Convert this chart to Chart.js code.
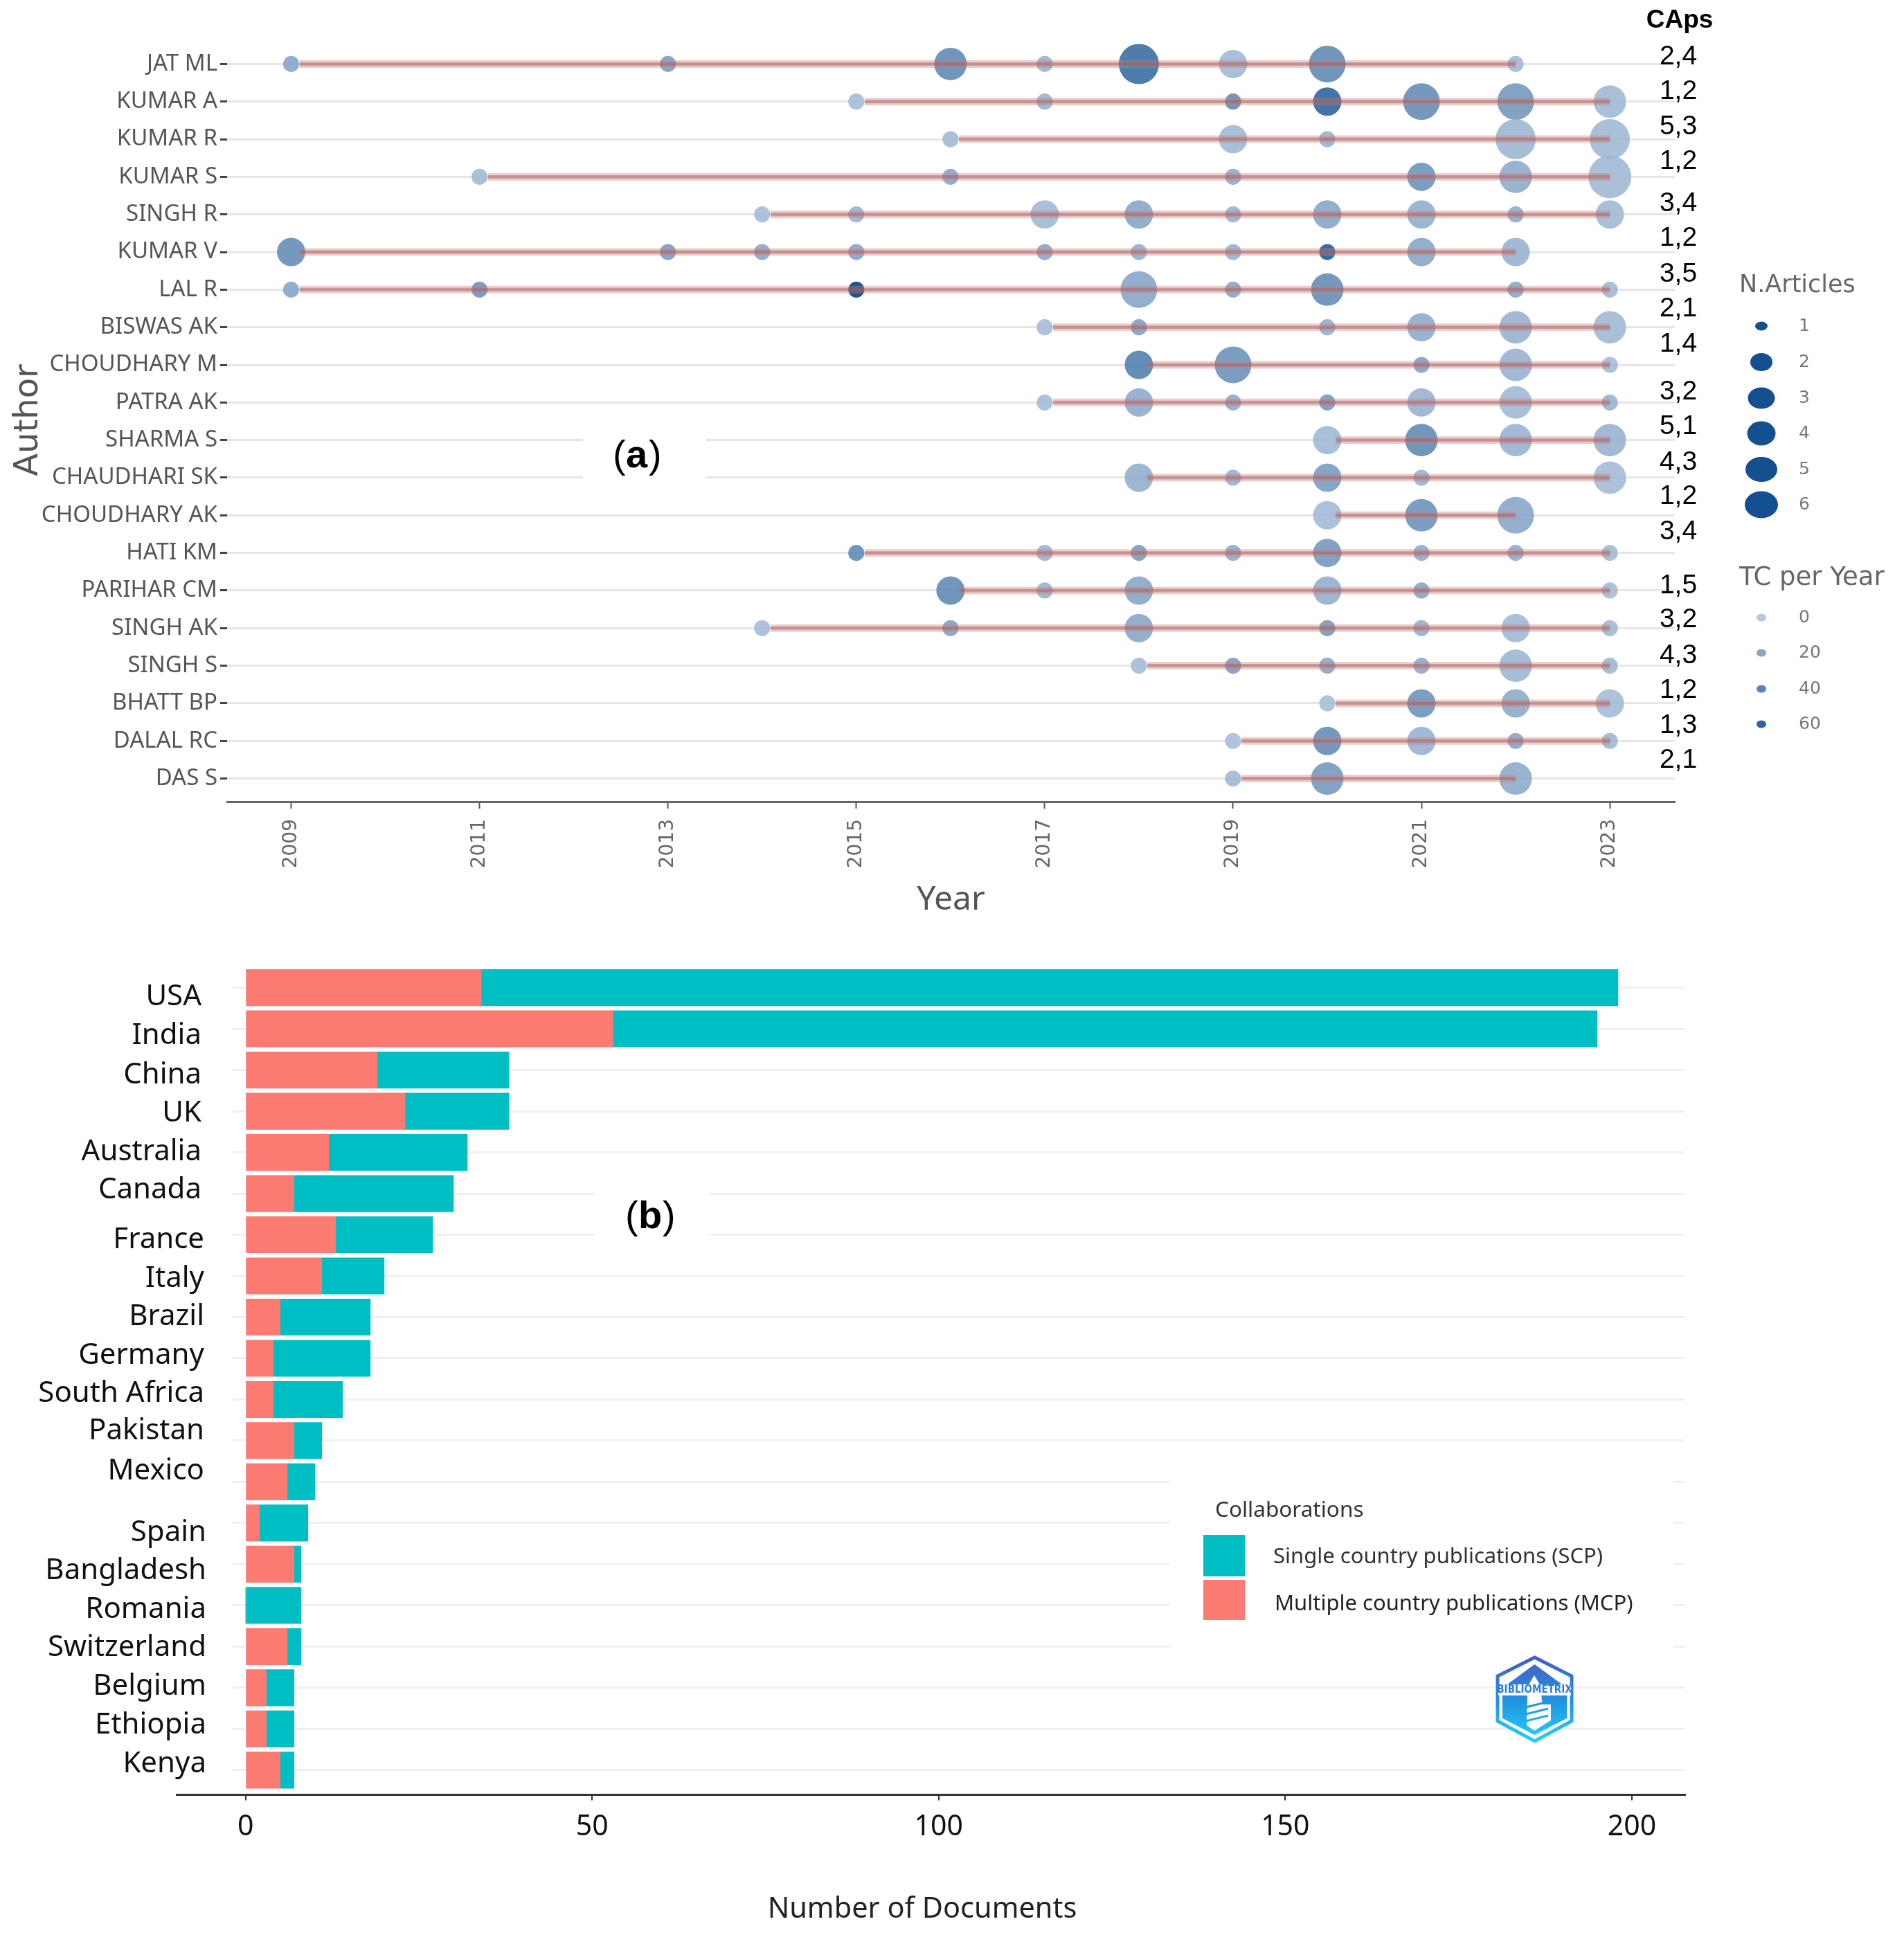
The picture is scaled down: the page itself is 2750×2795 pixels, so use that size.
<!DOCTYPE html>
<html>
<head>
<meta charset="utf-8">
<title>Authors and countries</title>
<script src="https://cdn.jsdelivr.net/npm/chart.js@4"></script>
<style>
  body { margin: 0; background: #fff; width: 2750px; height: 2795px; position: relative; overflow: hidden; }
  canvas { position: absolute; left: 0; }
  #authorChart { top: 0; }
  #countryChart { top: 1360px; }
</style>
</head>
<body>
<canvas id="authorChart" width="2750" height="1360"></canvas>
<canvas id="countryChart" width="2750" height="1435"></canvas>
<script>
// (a) authors' production over time
const authors = ["JAT ML", "KUMAR A", "KUMAR R", "KUMAR S", "SINGH R", "KUMAR V", "LAL R", "BISWAS AK", "CHOUDHARY M", "PATRA AK",
    "SHARMA S", "CHAUDHARI SK", "CHOUDHARY AK", "HATI KM", "PARIHAR CM", "SINGH AK", "SINGH S", "BHATT BP", "DALAL RC", "DAS S"];
const yearTicks = [2009, 2011, 2013, 2015, 2017, 2019, 2021, 2023];
const authorYears = [
    [2009, 2013, 2016, 2017, 2018, 2019, 2020, 2022],
    [2015, 2017, 2019, 2020, 2021, 2022, 2023],
    [2016, 2019, 2020, 2022, 2023],
    [2011, 2016, 2019, 2021, 2022, 2023],
    [2014, 2015, 2017, 2018, 2019, 2020, 2021, 2022, 2023],
    [2009, 2013, 2014, 2015, 2017, 2018, 2019, 2020, 2021, 2022],
    [2009, 2011, 2015, 2018, 2019, 2020, 2022, 2023],
    [2017, 2018, 2020, 2021, 2022, 2023],
    [2018, 2019, 2021, 2022, 2023],
    [2017, 2018, 2019, 2020, 2021, 2022, 2023],
    [2020, 2021, 2022, 2023],
    [2018, 2019, 2020, 2021, 2023],
    [2020, 2021, 2022],
    [2015, 2017, 2018, 2019, 2020, 2021, 2022, 2023],
    [2016, 2017, 2018, 2020, 2021, 2023],
    [2014, 2016, 2018, 2020, 2021, 2022, 2023],
    [2018, 2019, 2020, 2021, 2022, 2023],
    [2020, 2021, 2022, 2023],
    [2019, 2020, 2021, 2022, 2023],
    [2019, 2020, 2022],
];
const authorArticles = [
    [1, 1, 3, 1, 5, 2, 4, 1],
    [1, 1, 1, 2, 4, 4, 3],
    [1, 2, 1, 5, 5],
    [1, 1, 1, 2, 3, 6],
    [1, 1, 2, 2, 1, 2, 2, 1, 2],
    [2, 1, 1, 1, 1, 1, 1, 1, 2, 2],
    [1, 1, 1, 4, 1, 3, 1, 1],
    [1, 1, 1, 2, 3, 3],
    [2, 4, 1, 3, 1],
    [1, 2, 1, 1, 2, 3, 1],
    [2, 3, 3, 3],
    [2, 1, 2, 1, 3],
    [2, 3, 4],
    [1, 1, 1, 1, 2, 1, 1, 1],
    [2, 1, 2, 2, 1, 1],
    [1, 1, 2, 1, 1, 2, 1],
    [1, 1, 1, 1, 3, 1],
    [1, 2, 2, 2],
    [1, 2, 2, 1, 1],
    [1, 3, 3],
];
const authorTC = [
    [15, 20, 30, 8, 45, 5, 30, 5],
    [3, 8, 30, 50, 28, 22, 5],
    [5, 5, 8, 6, 5],
    [5, 15, 12, 25, 12, 5],
    [3, 8, 5, 15, 8, 15, 10, 12, 5],
    [28, 20, 15, 15, 15, 10, 8, 55, 15, 8],
    [15, 25, 70, 15, 15, 28, 15, 5],
    [3, 18, 10, 12, 8, 5],
    [35, 25, 18, 8, 3],
    [3, 12, 12, 22, 8, 5, 8],
    [5, 30, 8, 8],
    [10, 8, 20, 8, 4],
    [4, 25, 14],
    [30, 8, 20, 12, 22, 12, 12, 5],
    [30, 8, 15, 10, 15, 3],
    [3, 18, 14, 22, 10, 5, 5],
    [3, 20, 15, 12, 6, 6],
    [2, 25, 12, 3],
    [2, 28, 8, 15, 6],
    [5, 22, 12],
];
const capsTitle = "CAps";
const capsLabels = ["2,4", "1,2", "5,3", "1,2", "3,4", "1,2", "3,5", "2,1", "1,4", "3,2", "5,1", "4,3", "1,2", "3,4", "1,5", "3,2", "4,3", "1,2", "1,3", "2,1"];
const articleLegend = [1, 2, 3, 4, 5, 6];
const tcLegend = [0, 20, 40, 60];

// (b) most productive countries
const countries = ["USA", "India", "China", "UK", "Australia", "Canada", "France", "Italy", "Brazil", "Germany",
    "South Africa", "Pakistan", "Mexico", "Spain", "Bangladesh", "Romania", "Switzerland", "Belgium", "Ethiopia", "Kenya"];
const mcpDocs = [34, 53, 19, 23, 12, 7, 13, 11, 5, 4, 4, 7, 6, 2, 7, 0, 6, 3, 3, 5];
const scpDocs = [164, 142, 19, 15, 20, 23, 14, 9, 13, 14, 10, 4, 4, 7, 1, 8, 2, 4, 4, 2];
const docTicks = [0, 50, 100, 150, 200];

// sizes and places, all in page pixels
const bubbleRadius = [0, 11.6, 20.5, 23.5, 26.5, 29, 31];
const capsY = [82, 132, 183, 233, 294, 344, 396, 446, 497, 566, 616, 668, 717, 768, 846, 895, 947, 997, 1048, 1098];
const articleLegendY = [471, 523, 575, 626, 678, 729];
const articleLegendW = [18, 32, 39, 41, 46, 48];
const articleLegendH = [13, 26, 31, 35, 36, 39];
const tcLegendY = [892, 943, 995, 1046];
const countryLabelY = [1440, 1496, 1553, 1608, 1664, 1719, 1791, 1847, 1902, 1958, 2013, 2067, 2125, 2214, 2269, 2325, 2380, 2436, 2492, 2548];
const countryLabelRight = [291, 291, 291, 291, 291, 291, 295, 295, 295, 295, 295, 295, 295, 298, 298, 298, 298, 298, 298, 298];

const TEAL = "#00BFC4";
const SALMON = "#FB7A72";

function tcColor(tc) {
    const t = tc / 60;
    const mix = (a, b) => Math.max(0, Math.round(a + (b - a) * t));
    return `rgba(${mix(170, 16)}, ${mix(192, 78)}, ${mix(218, 139)}, 0.88)`;
}

const bubbles = [];
const segments = [];
authors.forEach((author, i) => {
    authorYears[i].forEach((year, j) => {
        bubbles.push({ x: year, y: i, r: bubbleRadius[authorArticles[i][j]], tc: authorTC[i][j] });
    });
    const years = authorYears[i];
    segments.push({ x: years[0] + 0.09, y: i }, { x: years[years.length - 1], y: i }, { x: null, y: null });
});

function text(ctx, str, x, y, font, color, align) {
    ctx.font = font;
    ctx.fillStyle = color;
    ctx.textAlign = align || "left";
    ctx.textBaseline = "middle";
    ctx.fillText(str, x, y);
}

const authorExtras = {
    id: "authorExtras",
    beforeDatasetsDraw(chart) {
        const ctx = chart.ctx;
        ctx.save();
        ctx.fillStyle = "#fff";
        ctx.fillRect(842, 622, 177, 85);
        ctx.restore();
    },
    afterDraw(chart) {
        const ctx = chart.ctx;
        ctx.save();
        // panel letter
        text(ctx, "(", 885, 660, "56px 'Liberation Sans'", "#000");
        text(ctx, "a", 904, 660, "bold 56px 'Liberation Sans'", "#000");
        text(ctx, ")", 937, 660, "56px 'Liberation Sans'", "#000");
        // CAps column
        text(ctx, capsTitle, 2426, 30, "bold 37px 'Liberation Sans'", "#000", "center");
        capsLabels.forEach((label, i) => text(ctx, label, 2424, capsY[i], "39px 'Liberation Sans'", "#000", "center"));
        // size legend
        text(ctx, "N.Articles", 2512, 413, "35px 'DejaVu Sans'", "#666");
        articleLegend.forEach((n, i) => {
            ctx.fillStyle = "#14508F";
            ctx.beginPath();
            ctx.ellipse(2544, articleLegendY[i], articleLegendW[i] / 2, articleLegendH[i] / 2, 0, 0, Math.PI * 2);
            ctx.fill();
            text(ctx, String(n), 2598, articleLegendY[i], "25px 'DejaVu Sans'", "#777");
        });
        // colour legend
        text(ctx, "TC per Year", 2512, 835, "37px 'DejaVu Sans'", "#666");
        tcLegend.forEach((tc, i) => {
            ctx.fillStyle = tcColor(tc);
            ctx.beginPath();
            ctx.ellipse(2544, tcLegendY[i], 7, 5.5, 0, 0, Math.PI * 2);
            ctx.fill();
            text(ctx, String(tc), 2598, tcLegendY[i], "25px 'DejaVu Sans'", "#777");
        });
        ctx.restore();
    },
};

new Chart(document.getElementById("authorChart"), {
    type: "bubble",
    plugins: [authorExtras],
    data: {
        datasets: [
            {
                type: "line",
                data: segments,
                borderColor: "rgba(165, 85, 95, 0.42)",
                borderWidth: 5,
                pointRadius: 0,
                spanGaps: false,
                borderCapStyle: "butt",
                order: 0,
            },
            {
                type: "line",
                data: segments,
                borderColor: "rgba(205, 125, 115, 0.38)",
                borderWidth: 11,
                pointRadius: 0,
                spanGaps: false,
                borderCapStyle: "butt",
                order: 1,
            },
            {
                data: bubbles,
                backgroundColor: (c) => tcColor(c.raw ? c.raw.tc : 0),
                borderWidth: 0,
                order: 2,
            },
        ],
    },
    options: {
        responsive: false,
        devicePixelRatio: 1,
        animation: false,
        layout: { padding: { top: 56, right: 331 } },
        plugins: { legend: { display: false }, tooltip: { enabled: false } },
        scales: {
            x: {
                type: "linear",
                min: 2008.32,
                max: 2023.69,
                afterBuildTicks: (s) => { s.ticks = yearTicks.map((v) => ({ value: v })); },
                afterFit: (s) => { s.height = 202; },
                ticks: {
                    autoSkip: false,
                    minRotation: 90,
                    maxRotation: 90,
                    padding: 15,
                    color: "#666",
                    font: { family: "DejaVu Sans", size: 28 },
                    callback: (v) => String(v),
                },
                grid: { color: "transparent", tickColor: "#555", tickLength: 10, tickWidth: 2 },
                border: { color: "#666", width: 3 },
                title: {
                    display: true,
                    text: "Year",
                    color: "#555",
                    font: { family: "Noto Sans", size: 48 },
                    padding: { top: 0, bottom: 31 },
                },
            },
            y: {
                type: "linear",
                reverse: true,
                min: -0.67,
                max: 19.615,
                afterBuildTicks: (s) => { s.ticks = authors.map((a, i) => ({ value: i })); },
                afterFit: (s) => { s.width = 328; },
                ticks: {
                    autoSkip: false,
                    padding: 4,
                    color: "#555",
                    font: { family: "Noto Sans", size: 33 },
                    callback: (v) => authors[v],
                },
                grid: { color: "#e6e6e6", lineWidth: 3, tickColor: "#444", tickLength: 10, tickWidth: 3 },
                border: { display: false },
                title: {
                    display: true,
                    text: "Author",
                    color: "#555",
                    font: { family: "DejaVu Sans", size: 48 },
                    padding: { top: 13, bottom: 0 },
                },
            },
        },
    },
});

function drawLogo(ctx) {
    const grad = ctx.createLinearGradient(0, 2391, 0, 2517);
    grad.addColorStop(0, "#4A5BC0");
    grad.addColorStop(0.5, "#2190E0");
    grad.addColorStop(1, "#22D3F7");
    ctx.strokeStyle = grad;
    ctx.fillStyle = grad;
    ctx.lineWidth = 5;
    ctx.beginPath();
    ctx.moveTo(2216.5, 2394);
    ctx.lineTo(2270, 2421);
    ctx.lineTo(2270, 2486);
    ctx.lineTo(2216.5, 2515);
    ctx.lineTo(2163, 2486);
    ctx.lineTo(2163, 2421);
    ctx.closePath();
    ctx.stroke();
    ctx.beginPath();
    ctx.moveTo(2216.5, 2404);
    ctx.lineTo(2256, 2433);
    ctx.lineTo(2177, 2433);
    ctx.closePath();
    ctx.fill();
    ctx.beginPath();
    ctx.moveTo(2170, 2449);
    ctx.lineTo(2263, 2449);
    ctx.lineTo(2263, 2482);
    ctx.lineTo(2216.5, 2506);
    ctx.lineTo(2170, 2482);
    ctx.closePath();
    ctx.fill();
    ctx.fillStyle = "#fff";
    ctx.beginPath();
    ctx.moveTo(2216, 2420);
    ctx.lineTo(2224, 2433);
    ctx.lineTo(2228, 2462);
    ctx.lineTo(2240, 2462);
    ctx.lineTo(2240, 2485);
    ctx.lineTo(2216, 2500);
    ctx.lineTo(2205, 2492);
    ctx.lineTo(2206, 2450);
    ctx.lineTo(2208, 2433);
    ctx.closePath();
    ctx.fill();
    ctx.strokeStyle = grad;
    ctx.lineWidth = 3;
    [2462, 2472, 2482].forEach((y) => {
        ctx.beginPath();
        ctx.moveTo(2204, y + 4);
        ctx.lineTo(2236, y - 4);
        ctx.stroke();
    });
    ctx.fillStyle = "#fff";
    ctx.fillRect(2164, 2433, 105, 16);
    text(ctx, "BIBLIOMETRIX", 2216.5, 2441, "bold 15px 'DejaVu Sans Condensed', 'DejaVu Sans'", "#2A7FD6", "center");
}

const countryExtras = {
    id: "countryExtras",
    beforeDatasetsDraw(chart) {
        const ctx = chart.ctx;
        ctx.save();
        ctx.translate(0, -1360);
        ctx.fillStyle = "#fff";
        // the grid starts at the bars, and is masked behind the inserts
        ctx.fillRect(255, 1380, 80, 1210);
        ctx.fillRect(859, 1700, 165, 110);
        ctx.fillRect(1689, 2130, 728, 260);
        ctx.restore();
    },
    afterDraw(chart) {
        const ctx = chart.ctx;
        ctx.save();
        ctx.translate(0, -1360);
        countries.forEach((c, i) => text(ctx, c, countryLabelRight[i], countryLabelY[i], "42px 'Noto Sans'", "#111", "right"));
        text(ctx, "(", 903, 1759, "56px 'Liberation Sans'", "#000");
        text(ctx, "b", 922, 1759, "bold 56px 'Liberation Sans'", "#000");
        text(ctx, ")", 957, 1759, "56px 'Liberation Sans'", "#000");
        text(ctx, "Number of Documents", 1332, 2758, "41.5px 'Noto Sans'", "#222", "center");
        // legend
        text(ctx, "Collaborations", 1755, 2182, "31.5px 'Noto Sans'", "#333");
        ctx.fillStyle = TEAL;
        ctx.fillRect(1738, 2217, 60, 60);
        ctx.fillStyle = SALMON;
        ctx.fillRect(1738, 2282, 60, 58);
        text(ctx, "Single country publications (SCP)", 1839, 2249, "31px 'Noto Sans'", "#333");
        text(ctx, "Multiple country publications (MCP)", 1841, 2317, "31px 'Noto Sans'", "#222");
        drawLogo(ctx);
        ctx.restore();
    },
};

new Chart(document.getElementById("countryChart"), {
    type: "bar",
    plugins: [countryExtras],
    data: {
        datasets: [
            {
                label: "Multiple country publications (MCP)",
                data: mcpDocs.map((v, i) => ({ x: v, y: i })),
                backgroundColor: SALMON,
                barThickness: 52.5,
                stack: "docs",
            },
            {
                label: "Single country publications (SCP)",
                data: scpDocs.map((v, i) => ({ x: v, y: i })),
                backgroundColor: TEAL,
                barThickness: 52.5,
                stack: "docs",
            },
        ],
    },
    options: {
        indexAxis: "y",
        responsive: false,
        devicePixelRatio: 1,
        animation: false,
        layout: { padding: { top: 20, right: 316 } },
        plugins: { legend: { display: false }, tooltip: { enabled: false } },
        scales: {
            x: {
                type: "linear",
                stacked: true,
                min: -9.95,
                max: 207.7,
                afterBuildTicks: (s) => { s.ticks = docTicks.map((v) => ({ value: v })); },
                afterFit: (s) => { s.height = 202.5; },
                ticks: {
                    autoSkip: false,
                    maxRotation: 0,
                    padding: 14,
                    color: "#111",
                    font: { family: "Noto Sans", size: 41 },
                },
                grid: { color: "#fff", lineWidth: 2, tickColor: "#333", tickLength: 8, tickWidth: 2 },
                border: { color: "#333", width: 3 },
            },
            y: {
                type: "linear",
                reverse: true,
                offset: false,
                min: -0.784,
                max: 19.6,
                afterBuildTicks: (s) => { s.ticks = countries.map((c, i) => ({ value: i })); },
                afterFit: (s) => { s.width = 255; },
                ticks: { display: false },
                grid: { color: "#f0f0f0", lineWidth: 3, drawTicks: false, offset: false },
                border: { display: false },
            },
        },
    },
});
</script>
</body>
</html>
